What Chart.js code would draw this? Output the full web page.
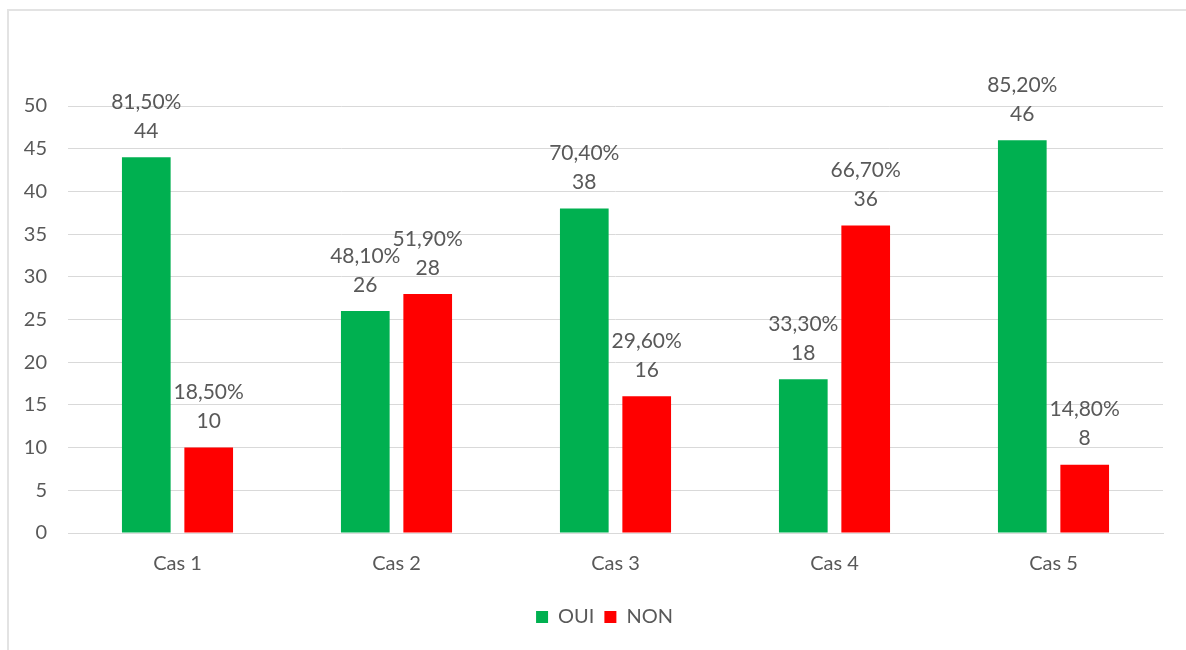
<!DOCTYPE html>
<html>
<head>
<meta charset="utf-8">
<script src="https://cdn.jsdelivr.net/npm/chart.js@4.4.1/dist/chart.umd.min.js"></script>
<style>
  html, body { margin: 0; padding: 0; background: #fff; }
  #frame { position: absolute; left: 7px; top: 9px; width: 1179px; height: 641px;
           border-top: 2px solid #e3e3e3; border-left: 2px solid #e3e3e3; }
  #wrap { position: absolute; left: 0; top: 0; width: 1186px; height: 650px; }
</style>
</head>
<body>
<div id="frame"></div>
<div id="wrap"><canvas id="c" width="1186" height="650"></canvas></div>
<script>
var categories = ['Cas 1', 'Cas 2', 'Cas 3', 'Cas 4', 'Cas 5']
var oui = [44, 26, 38, 18, 46]
var non = [10, 28, 16, 36, 8]
var ouiPct = ['81,50%', '48,10%', '70,40%', '33,30%', '85,20%']
var nonPct = ['18,50%', '51,90%', '29,60%', '66,70%', '14,80%']
var yTicks = [0, 5, 10, 15, 20, 25, 30, 35, 40, 45, 50]

var GREEN = '#00B050'
var RED = '#FF0000'
var TXT = '#595959'
var FONT = 'Lato, "Open Sans", sans-serif'

// draws the "xx,xx%" / value pair above each bar
var barLabels = {
  id: 'barLabels',
  afterDatasetsDraw: function(chart){
    var c = chart.ctx
    var pcts = [ouiPct, nonPct]
    c.save()
    c.fillStyle = TXT
    c.font = '21px ' + FONT
    c.textAlign = 'center'
    c.textBaseline = 'middle'
    chart.data.datasets.forEach(function(ds, i){
      chart.getDatasetMeta(i).data.forEach(function(bar, j){
        c.fillText(String(ds.data[j]), bar.x, bar.y - 26)
        c.fillText(pcts[i][j], bar.x, bar.y - 55)
      })
    })
    c.restore()
  }
}

// centre the legend under the plot area rather than the canvas
var legendShift = {
  id: 'legendShift',
  afterLayout: function(chart){
    var l = chart.legend
    var d = (chart.chartArea.left + chart.chartArea.right) / 2 - (l.left + l.right) / 2 - 11
    l.left += d
    l.right += d
  }
}

new Chart(document.getElementById('c').getContext('2d'), {
  type: 'bar',
  data: {
    labels: categories,
    datasets: [
      {label: 'OUI', data: oui, backgroundColor: GREEN, categoryPercentage: 0.57, barPercentage: 0.78},
      {label: 'NON', data: non, backgroundColor: RED, categoryPercentage: 0.57, barPercentage: 0.78}
    ]
  },
  plugins: [barLabels, legendShift],
  options: {
    responsive: false,
    animation: false,
    layout: {padding: {top: 106, right: 23, left: 0, bottom: 13}},
    scales: {
      x: {
        grid: {display: false, drawTicks: false},
        border: {display: true, color: '#d9d9d9', width: 1},
        ticks: {color: TXT, font: {size: 20, family: FONT}, padding: 19},
        afterFit: function(s){ s.height = 64 }
      },
      y: {
        min: 0, max: 50,
        afterBuildTicks: function(s){ s.ticks = yTicks.map(function(v){ return {value: v} }) },
        grid: {color: '#d9d9d9', drawTicks: false},
        border: {display: false},
        ticks: {color: TXT, font: {size: 20, family: FONT}, padding: 21},
        afterFit: function(s){ s.width = 68 }
      }
    },
    plugins: {
      tooltip: {enabled: false},
      legend: {
        position: 'bottom',
        labels: {color: TXT, boxWidth: 12, boxHeight: 12, padding: 10,
                 font: {size: 20, family: FONT}}
      }
    }
  }
})
</script>
</body>
</html>
